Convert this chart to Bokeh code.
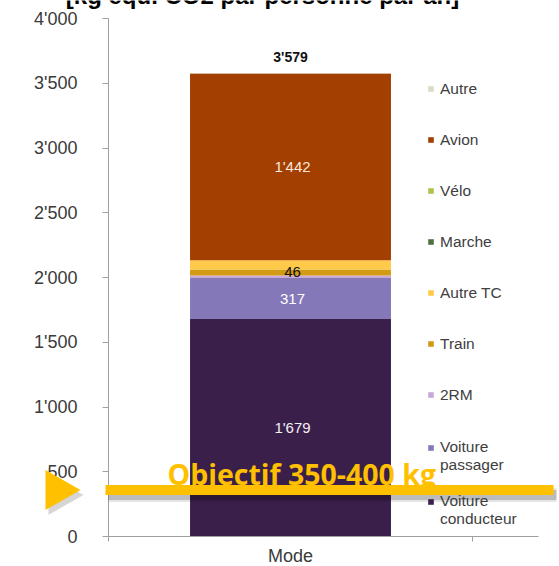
import numpy as np
from bokeh.plotting import figure
from bokeh.models import (Range1d, FixedTicker, Legend, LegendItem, Label,
                          ColumnDataSource)
from bokeh.embed import file_html
from bokeh.resources import INLINE
from bokeh.core.properties import value

# ---------------- data ----------------
title_text = "[kg équ. CO2 par personne par an]"
categories = ["Mode"]
modes = ["Voiture conducteur", "Voiture passager", "2RM", "Train", "Autre TC",
         "Marche", "Vélo", "Avion", "Autre"]
legend_labels = ["\nVoiture\nconducteur", "\nVoiture\npassager", "2RM", "Train", "Autre TC",
                 "Marche", "Vélo", "Avion", "Autre"]
emissions = [1679, 317, 20, 46, 72, 0, 0, 1442, 3]
labelled = [True, True, False, True, False, False, False, True, False]
y_ticks = [0, 500, 1000, 1500, 2000, 2500, 3000, 3500, 4000]
y_tick_labels = ["0", "500", "1'000", "1'500", "2'000", "2'500", "3'000", "3'500", "4'000"]
objectif_value = 360
objectif_text = "Objectif 350-400 kg"

# ---------------- style ----------------
colors = ["#3B1F4B", "#8478B8", "#C9A9D9", "#D39A14", "#FFCA4A",
          "#4E7043", "#AFC34B", "#A33F00", "#DDDAC6"]
label_colors = ["#F4F0F6", "#FFFFFF", "#FFFFFF", "#111111", "#111111",
                "#111111", "#111111", "#F6E8DC", "#111111"]
ORANGE = "#FFC000"
FONT = "Liberation Sans"
W, H = 559, 566
TOP = 18
LEFT = 108
Y_MAX = 4000
PLOT_H = 518                    # pixels between 0 and Y_MAX
UPP = Y_MAX / PLOT_H            # data units per pixel (vertical)
XPP = 1.0 / 364                 # data units per pixel (horizontal)
Y_MIN = -(H - TOP - PLOT_H) * UPP

def fmt(v):
    return f"{int(v):,}".replace(",", "'")

def px_x(px):      # horizontal pixel position -> data x
    return (px - LEFT) * XPP

p = figure(width=W, height=H, output_backend="svg", toolbar_location=None,
           x_range=Range1d(px_x(0), px_x(W)),
           y_range=Range1d(Y_MIN, Y_MAX + TOP * UPP),
           min_border_left=0, min_border_right=0, min_border_top=0,
           min_border_bottom=0)
p.outline_line_color = None
p.grid.visible = False
p.background_fill_color = "white"

cx = [i + 0.5 for i in range(len(categories))]
data = {"x": cx}
for m, v in zip(modes, emissions):
    data[m] = [v]
src = ColumnDataSource(data)

rs = p.vbar_stack(stackers=modes, x="x", width=0.552, color=colors,
                  line_color=None, source=src)

# segment labels
vals = np.array(emissions, dtype=float)
bottoms = np.concatenate([[0], np.cumsum(vals)[:-1]])
mids = bottoms + vals / 2
show = np.array(labelled)
p.text(x=[cx[0]] * int(show.sum()), y=list(mids[show]),
       text=[fmt(v) for v in vals[show]],
       text_color=[c for c, s in zip(label_colors, show) if s],
       text_align="center", text_baseline="middle", x_offset=2,
       text_font=value(FONT), text_font_size="15px")

total = vals.sum()
p.text(x=cx, y=[total], text=[fmt(total)], y_offset=-16,
       text_align="center", text_baseline="middle", text_color="#111111",
       text_font=value(FONT), text_font_size="14px", text_font_style="bold")

# axes (fixed inside the frame)
yax = p.yaxis[0]
yax.fixed_location = 0
yax.ticker = FixedTicker(ticks=y_ticks)
yax.bounds = (0, Y_MAX)
yax.major_label_overrides = {t: l for t, l in zip(y_ticks, y_tick_labels)}
yax.major_label_text_font = FONT
yax.major_label_text_font_size = "18px"
yax.major_label_text_color = "#3a3a3a"
yax.axis_line_color = "#A0A0A0"
yax.major_tick_line_color = "#A0A0A0"
yax.major_tick_out = 6
yax.major_tick_in = 0
yax.minor_tick_line_color = None
yax.major_label_standoff = 25

xax = p.xaxis[0]
xax.fixed_location = 0
xax.ticker = FixedTicker(ticks=cx, minor_ticks=[0, 1])
xax.major_label_overrides = {c: l for c, l in zip(cx, categories)}
xax.major_label_text_font = FONT
xax.major_label_text_font_size = "18px"
xax.major_label_text_color = "#3a3a3a"
xax.axis_line_color = "#A0A0A0"
xax.major_tick_line_color = None
xax.major_tick_out = 0
xax.minor_tick_line_color = "#A0A0A0"
xax.minor_tick_out = 5
xax.minor_tick_in = 0
xax.major_label_standoff = 4
xax.bounds = (0, px_x(538))

# legend
items = [LegendItem(label=legend_labels[i], renderers=[rs[i]])
         for i in reversed(range(len(modes)))]
legend = Legend(items=items, location=(427, 38), glyph_width=7, glyph_height=7,
                label_height=51, spacing=0, padding=0, margin=0,
                border_line_color=None, background_fill_alpha=0,
                label_standoff=6, label_text_font=FONT,
                label_text_line_height=1.04,
                label_text_font_size="15.5px", label_text_color="#404040")
p.add_layout(legend)

# objective line with shadow
x0, x1 = px_x(105), px_x(553)
for w, a in [(14, 0.10), (10, 0.18)]:
    p.line(x=[x0 + 3 * XPP, x1 + 3 * XPP],
           y=[objectif_value - 5 * UPP] * 2, line_width=w,
           line_color="#000000", line_alpha=a, level="overlay")
p.line(x=[x0, x1], y=[objectif_value] * 2, line_width=10,
       line_color=ORANGE, level="overlay")

# arrow head with shadow
tri_x = [px_x(45), px_x(80), px_x(45)]
tri_y = [objectif_value + 20 * UPP, objectif_value, objectif_value - 20 * UPP]
p.patch(x=[x + 3 * XPP for x in tri_x], y=[y - 5 * UPP for y in tri_y],
        fill_color="#000000", fill_alpha=0.16, line_color=None, level="overlay")
p.patch(x=tri_x, y=tri_y, fill_color=ORANGE, line_color=None, level="overlay")

p.add_layout(Label(x=px_x(167), y=objectif_value + 16 * UPP, text=objectif_text,
                   text_font="Open Sans", text_font_size="28.5px",
                   text_font_style="bold", text_color=ORANGE,
                   text_baseline="alphabetic", level="overlay"))

# title (mostly cut off at the top, as in the original)
p.text(x=[px_x(262)], y=[Y_MAX + (TOP + 5) * UPP], text=[title_text],
       text_font=value(FONT), text_font_size="24px", text_font_style="bold",
       text_color="#000000", text_align="center", text_baseline="alphabetic")

open("out.html", "w").write(file_html(p, INLINE))
